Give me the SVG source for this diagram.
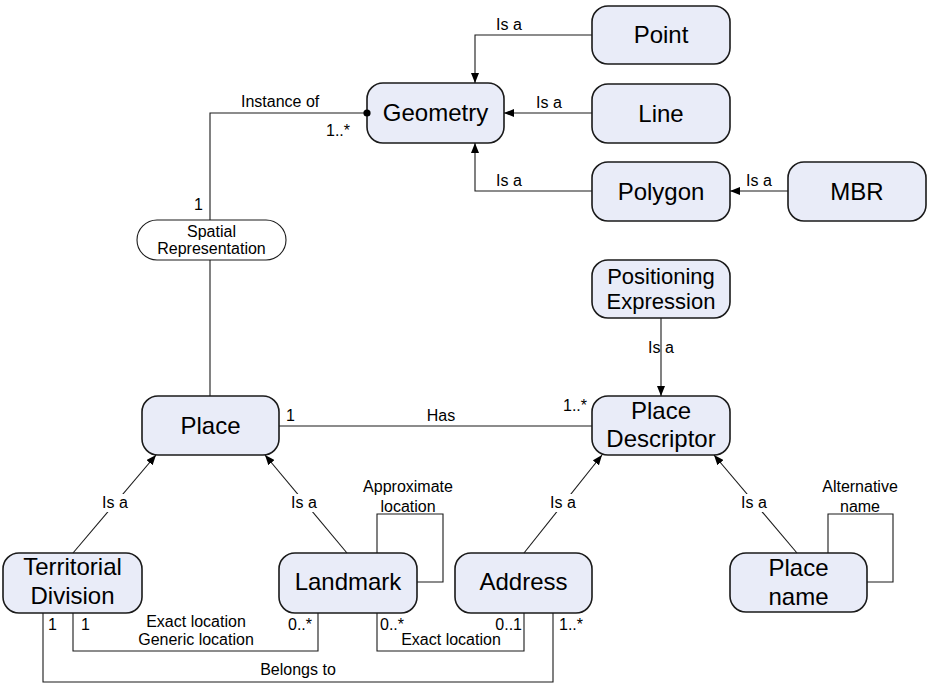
<svg xmlns="http://www.w3.org/2000/svg" width="928" height="687" viewBox="0 0 928 687">
<defs>
<marker id="arr" viewBox="0 0 10 8" refX="10" refY="4" markerWidth="10" markerHeight="8" markerUnits="userSpaceOnUse" orient="auto">
<path d="M0,0 L10,4 L0,8 Z" fill="#000"/>
</marker>
<marker id="dot" viewBox="0 0 8 8" refX="4" refY="4" markerWidth="8" markerHeight="8" markerUnits="userSpaceOnUse">
<circle cx="4" cy="4" r="3.6" fill="#000"/>
</marker>
</defs>
<style>
.node{fill:#E9ECF8;stroke:#1a1a1a;stroke-width:1.6}
.nt{font-family:"Liberation Sans",Arial,sans-serif;font-size:24px;text-anchor:middle;fill:#000}
.lb{font-family:"Liberation Sans",Arial,sans-serif;font-size:16px;fill:#000}
.c{text-anchor:middle}
.e{text-anchor:end}
.ln{fill:none;stroke:#1a1a1a;stroke-width:1.1}
.bg{fill:#fff}
</style>
<rect width="928" height="687" fill="#fff"/>
<g id="geometry"><rect class="node" x="367" y="83" width="137" height="60" rx="16"/><text class="nt" x="435.5" y="121">Geometry</text></g>
<g id="point"><rect class="node" x="592" y="6" width="138" height="58" rx="16"/><text class="nt" x="661" y="43">Point</text></g>
<g id="line"><rect class="node" x="592" y="84" width="138" height="59" rx="16"/><text class="nt" x="661" y="122">Line</text></g>
<g id="polygon"><rect class="node" x="592" y="162" width="138" height="59" rx="16"/><text class="nt" x="661" y="200">Polygon</text></g>
<g id="mbr"><rect class="node" x="788" y="162" width="138" height="59" rx="16"/><text class="nt" x="857" y="200">MBR</text></g>
<g id="spatial-representation"><rect x="137" y="220" width="149" height="40" rx="20" fill="#fff" stroke="#1a1a1a" stroke-width="1.1"/><text class="lb c" x="211.5" y="237">Spatial</text><text class="lb c" x="211.5" y="254">Representation</text></g>
<g id="place"><rect class="node" x="142" y="396" width="137" height="59" rx="16"/><text class="nt" x="210.5" y="434">Place</text></g>
<g id="positioning-expression"><rect class="node" x="592" y="260" width="138" height="58" rx="16"/><text class="nt" x="661" y="284" style="font-size:22px">Positioning</text><text class="nt" x="661" y="309" style="font-size:22px">Expression</text></g>
<g id="place-descriptor"><rect class="node" x="592" y="396" width="138" height="59" rx="16"/><text class="nt" x="661" y="419">Place</text><text class="nt" x="661" y="447">Descriptor</text></g>
<g id="territorial-division"><rect class="node" x="3" y="553" width="139" height="60" rx="16"/><text class="nt" x="72.5" y="575">Territorial</text><text class="nt" x="72.5" y="604">Division</text></g>
<g id="landmark"><rect class="node" x="279" y="553" width="138" height="60" rx="16"/><text class="nt" x="348" y="590">Landmark</text></g>
<g id="address"><rect class="node" x="455" y="553" width="137" height="60" rx="16"/><text class="nt" x="523.5" y="590">Address</text></g>
<g id="place-name"><rect class="node" x="730" y="553" width="137" height="59" rx="16"/><text class="nt" x="798.5" y="576">Place</text><text class="nt" x="798.5" y="605">name</text></g>
<g id="connectors">
<polyline class="ln" points="592,35 475,35 475,83" marker-end="url(#arr)"/>
<line class="ln" x1="592" y1="113" x2="504" y2="113" marker-end="url(#arr)"/>
<polyline class="ln" points="592,191 475,191 475,143" marker-end="url(#arr)"/>
<line class="ln" x1="788" y1="191" x2="730" y2="191" marker-end="url(#arr)"/>
<polyline class="ln" points="210,220 210,113 367,113" marker-end="url(#dot)"/>
<line class="ln" x1="210" y1="260" x2="210" y2="396"/>
<line class="ln" x1="279" y1="426" x2="592" y2="426"/>
<line class="ln" x1="661" y1="318" x2="661" y2="396" marker-end="url(#arr)"/>
<line class="ln" x1="73" y1="553" x2="156" y2="455" marker-end="url(#arr)"/>
<line class="ln" x1="347" y1="553" x2="265" y2="455" marker-end="url(#arr)"/>
<line class="ln" x1="524" y1="553" x2="602" y2="455" marker-end="url(#arr)"/>
<line class="ln" x1="797" y1="553" x2="714" y2="455" marker-end="url(#arr)"/>
<polyline class="ln" points="377,553 377,514 443,514 443,582 417,582"/>
<polyline class="ln" points="828,553 828,514 893,514 893,582 867,582"/>
<polyline class="ln" points="73,613 73,651 318,651 318,613"/>
<polyline class="ln" points="43,613 43,682 553,682 553,613"/>
<polyline class="ln" points="377,613 377,651 524,651 524,613"/>
<rect class="bg" x="99" y="494" width="32" height="18"/>
<rect class="bg" x="288" y="494" width="32" height="18"/>
<rect class="bg" x="547" y="494" width="32" height="18"/>
<rect class="bg" x="738" y="494" width="32" height="18"/>
<text class="lb" x="496" y="30">Is a</text>
<text class="lb" x="536" y="108">Is a</text>
<text class="lb" x="496" y="186">Is a</text>
<text class="lb" x="746" y="186">Is a</text>
<text class="lb" x="241" y="107">Instance of</text>
<text class="lb" x="326" y="136">1..*</text>
<text class="lb" x="194" y="210">1</text>
<text class="lb" x="286" y="421">1</text>
<text class="lb c" x="441" y="421">Has</text>
<text class="lb" x="563" y="411">1..*</text>
<text class="lb c" x="661" y="353">Is a</text>
<text class="lb c" x="115" y="508">Is a</text>
<text class="lb c" x="304" y="508">Is a</text>
<text class="lb c" x="563" y="508">Is a</text>
<text class="lb c" x="754" y="508">Is a</text>
<text class="lb c" x="408" y="492">Approximate</text>
<text class="lb c" x="408" y="512">location</text>
<text class="lb c" x="860" y="492">Alternative</text>
<text class="lb c" x="860" y="512">name</text>
<text class="lb" x="48" y="630">1</text>
<text class="lb" x="81" y="630">1</text>
<text class="lb c" x="196" y="627">Exact location</text>
<text class="lb c" x="196" y="645">Generic location</text>
<text class="lb" x="288" y="630">0..*</text>
<text class="lb" x="380" y="630">0..*</text>
<text class="lb c" x="451" y="645">Exact location</text>
<text class="lb e" x="522" y="630">0..1</text>
<text class="lb" x="559" y="630">1..*</text>
<text class="lb c" x="298" y="675">Belongs to</text>
</g>
</svg>
